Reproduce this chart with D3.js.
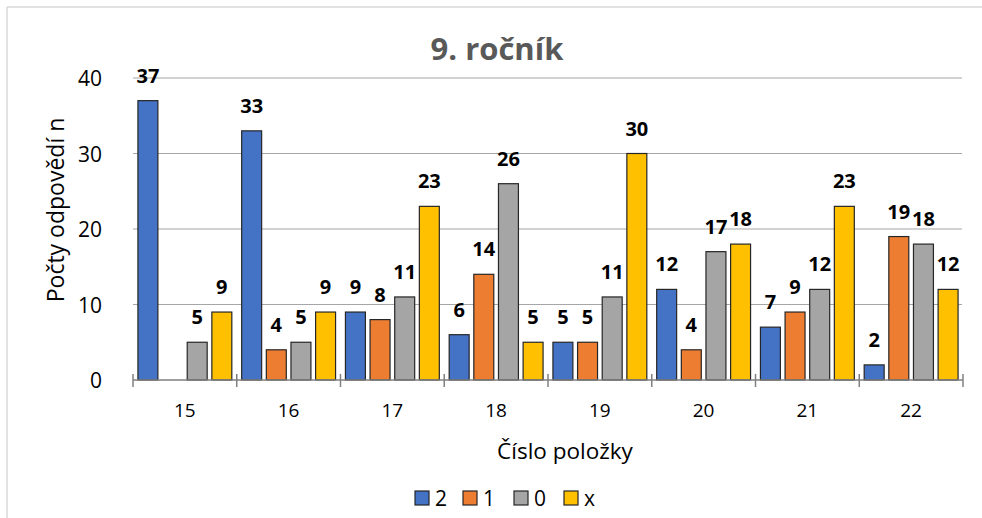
<!DOCTYPE html>
<html>
<head>
<meta charset="utf-8">
<script src="https://cdnjs.cloudflare.com/ajax/libs/d3/7.8.5/d3.min.js"></script>
<style>
  body { margin: 0; background: #fff; }
  text { font-family: "Open Sans", "Noto Sans", sans-serif; }
</style>
</head>
<body>
<div id="chart"></div>
<script>
// data
var categories = ["15", "16", "17", "18", "19", "20", "21", "22"];
var seriesNames = ["2", "1", "0", "x"];
var val2 = [37, 33, 9, 6, 5, 12, 7, 2];
var val1 = [null, 4, 8, 14, 5, 4, 9, 19];
var val0 = [5, 5, 11, 26, 11, 17, 12, 18];
var valX = [9, 9, 23, 5, 30, 18, 23, 12];
var yTicks = [0, 10, 20, 30, 40];
var colors = ["#4472C4", "#ED7D31", "#A5A5A5", "#FFC000"];

var allSeries = [val2, val1, val0, valX];

var w = 982,
    h = 518;

var svg = d3.select("#chart")
    .append("svg")
    .attr("width", w)
    .attr("height", h);

// outer frame (only top and left edges visible)
svg.append("line")
    .attr("x1", 7).attr("y1", 7).attr("x2", w).attr("y2", 7)
    .attr("style", "stroke: #d9d9d9; stroke-width: 1.5");
svg.append("line")
    .attr("x1", 7).attr("y1", 7).attr("x2", 7).attr("y2", h)
    .attr("style", "stroke: #d9d9d9; stroke-width: 1.5");

var x0 = d3.scaleBand()
    .domain(categories)
    .range([133, 963])
    .padding(0);

var x1 = d3.scaleBand()
    .domain(seriesNames)
    .range([0, x0.bandwidth()])
    .paddingInner(0.19)
    .paddingOuter(0.2);

var y = d3.scaleLinear()
    .domain([0, 40])
    .range([380, 78]);

// gridlines
svg.selectAll(".grid")
    .data(yTicks.slice(1))
    .enter()
    .append("line")
    .attr("class", "grid")
    .attr("x1", 133)
    .attr("x2", 962)
    .attr("y1", function(d){ return y(d) })
    .attr("y2", function(d){ return y(d) })
    .attr("style", "stroke: #a6a6a6; stroke-width: 1.2");

// y tick labels
svg.selectAll(".ylab")
    .data(yTicks)
    .enter()
    .append("text")
    .attr("class", "ylab")
    .attr("x", 102)
    .attr("y", function(d){ return y(d) + 8 })
    .attr("text-anchor", "end")
    .attr("font-size", 21)
    .attr("fill", "#000")
    .text(function(d){ return d });

// bars + labels
for (var s = 0; s < allSeries.length; s++){
    var vals = allSeries[s];
    for (var k = 0; k < categories.length; k++){
        if (vals[k] == null) continue;
        var bx = x0(categories[k]) + x1(seriesNames[s]);
        svg.append("rect")
            .attr("x", bx)
            .attr("y", y(vals[k]))
            .attr("width", x1.bandwidth())
            .attr("height", y(0) - y(vals[k]))
            .attr("fill", colors[s])
            .attr("stroke", "#262626")
            .attr("stroke-width", 1.2);

        svg.append("text")
            .attr("x", bx + x1.bandwidth() / 2)
            .attr("y", y(vals[k]) - 18)
            .attr("text-anchor", "middle")
            .attr("font-size", 20)
            .attr("font-weight", "bold")
            .attr("fill", "#000")
            .text(vals[k]);
    }
}

// x axis line and tick marks at category edges
svg.append("line")
    .attr("x1", 133).attr("x2", 963)
    .attr("y1", y(0)).attr("y2", y(0))
    .attr("style", "stroke: #808080; stroke-width: 1.5");

var edges = categories.map(function(c){ return x0(c) }).concat([x0.range()[1]]);
svg.selectAll(".xtick")
    .data(edges)
    .enter()
    .append("line")
    .attr("class", "xtick")
    .attr("x1", function(d){ return d })
    .attr("x2", function(d){ return d })
    .attr("y1", y(0) - 6)
    .attr("y2", y(0) + 7)
    .attr("style", "stroke: #808080; stroke-width: 1.5");

svg.selectAll(".xlab")
    .data(categories)
    .enter()
    .append("text")
    .attr("class", "xlab")
    .attr("x", function(d){ return x0(d) + x0.bandwidth() / 2 })
    .attr("y", 417)
    .attr("text-anchor", "middle")
    .attr("font-size", 19)
    .attr("fill", "#000")
    .text(function(d){ return d });

// titles
svg.append("text")
    .attr("x", 497)
    .attr("y", 60)
    .attr("text-anchor", "middle")
    .attr("font-size", 31)
    .attr("font-weight", "bold")
    .attr("fill", "#595959")
    .text("9. ročník");

svg.append("text")
    .attr("x", 565)
    .attr("y", 459)
    .attr("text-anchor", "middle")
    .attr("font-size", 22.5)
    .attr("fill", "#000")
    .text("Číslo položky");

svg.append("text")
    .attr("transform", "translate(64,210) rotate(-90)")
    .attr("text-anchor", "middle")
    .attr("font-size", 23)
    .attr("fill", "#000")
    .text("Počty odpovědí n");

// legend
var legX = [415, 463, 514, 564];
for (var i = 0; i < seriesNames.length; i++){
    svg.append("rect")
        .attr("x", legX[i])
        .attr("y", 491)
        .attr("width", 14)
        .attr("height", 14)
        .attr("fill", colors[i])
        .attr("stroke", "#262626")
        .attr("stroke-width", 1.2);
    svg.append("text")
        .attr("x", legX[i] + 20)
        .attr("y", 506)
        .attr("font-size", 21)
        .attr("fill", "#000")
        .text(seriesNames[i]);
}
</script>
</body>
</html>
